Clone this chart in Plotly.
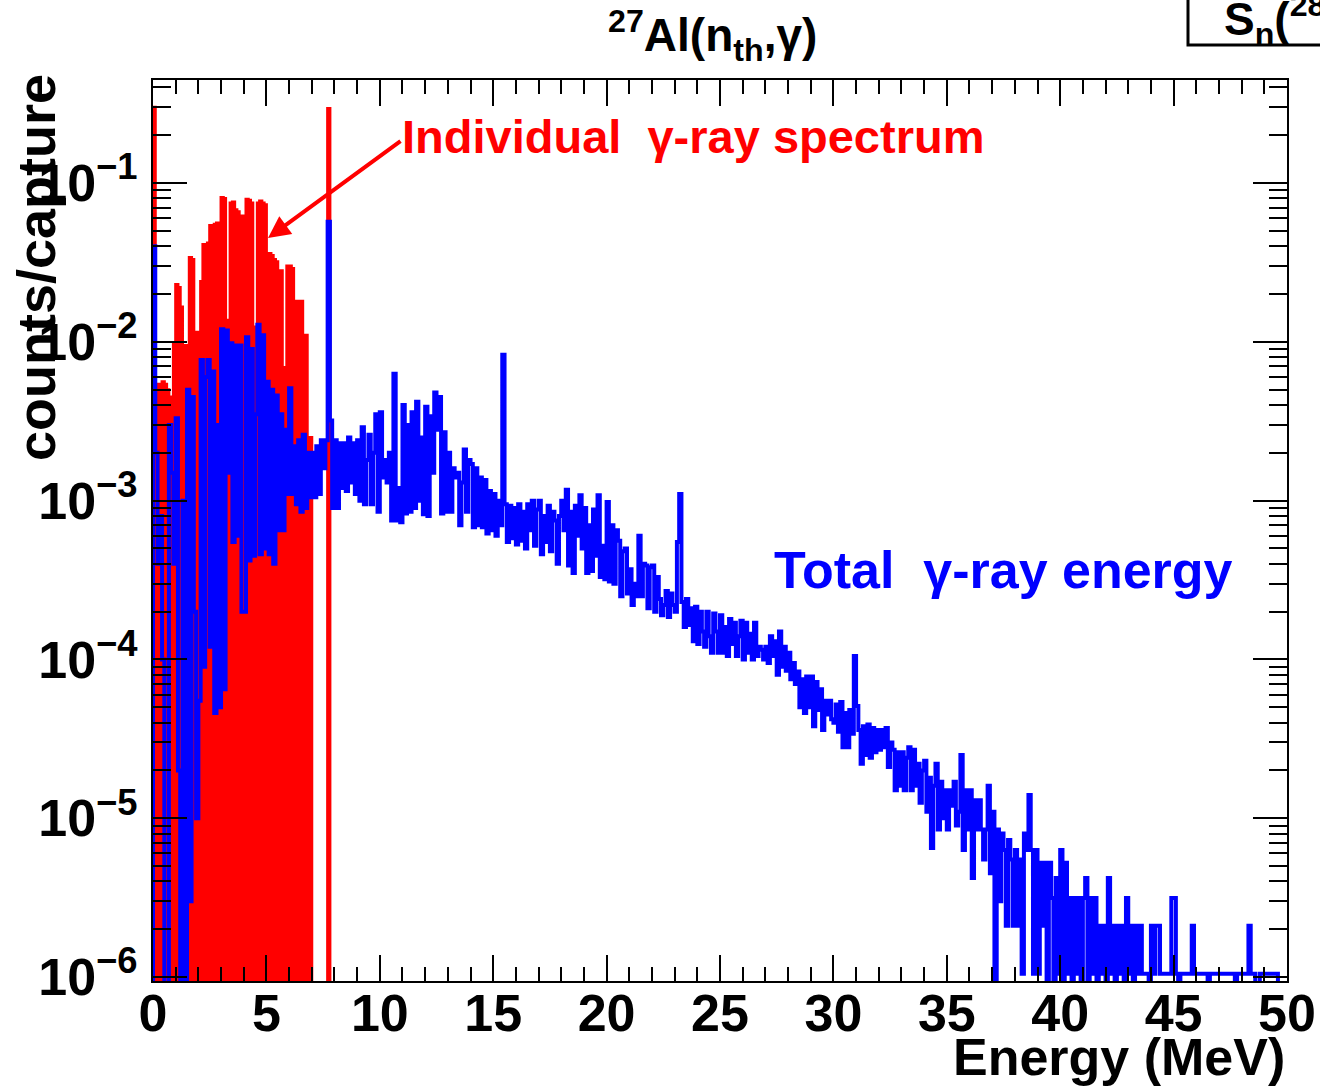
import numpy as np
import plotly.graph_objects as go

# ---------------- data ----------------
BIN_WIDTH_MEV = 0.1

# Individual gamma-ray spectrum (red, filled), 0.1 MeV bins starting at 0 MeV
red_individual = [
    0.3, 5.4e-3, 5.2e-3, 5.4e-3, 5.6e-3, 5.4e-3, 5.0e-3, 4.5e-3, 4.5e-3, 9.8e-3,
    0.023, 0.022, 0.0166, 0.009, 0.0095, 0.009, 0.034, 0.033, 0.011, 0.0115,
    0.011, 0.024, 0.041, 0.04, 0.042, 0.054, 0.053, 0.055, 0.056, 0.055,
    0.081, 0.08, 0.0137, 0.0137, 0.075, 0.076, 0.068, 0.066, 0.061, 0.062,
    0.061, 0.079, 0.078, 0.075, 0.0124, 0.0124, 0.075, 0.077, 0.075, 0.073,
    0.036, 0.036, 0.035, 0.033, 0.032, 0.028, 0.028, 0.0069, 0.005, 0.03,
    0.03, 0.029, 0.018, 0.018, 0.017, 0.018, 0.011, 0.011, 2.5e-3, 2.5e-3,
    0, 0, 0, 0, 0, 0, 0, 0.295,
]

# Total gamma-ray energy (blue, line), 0.1 MeV bins from 0 to 50 MeV (one row = 1 MeV)
blue_total = [
    0.04, 2e-3, 4e-4, 8e-4, 1e-4, 0, 0, 3e-3, 1.5e-3, 4e-4,
    3.3e-3, 2e-5, 0, 1e-3, 0, 5e-3, 3e-6, 4.5e-3, 2e-4, 1e-5,
    5.5e-5, 7.7e-3, 9e-5, 6e-3, 7.7e-3, 1.2e-4, 6.5e-3, 4.6e-5, 3e-3, 5e-5,
    0.012, 6.5e-5, 0.0118, 1.5e-3, 0.0098, 5.5e-4, 9.5e-3, 6e-4, 0.0095, 2e-4,
    2e-4, 0.0107, 4.2e-4, 9e-3, 4.5e-4, 3.5e-3, 0.0128, 4.6e-4, 0.011, 5e-4,
    5.6e-3, 4.6e-4, 5.0e-3, 4e-4, 4.6e-3, 6.5e-4, 3.5e-3, 6.5e-4, 2.8e-3, 1.1e-3,
    5.1e-3, 1.1e-3, 2.2e-3, 9.5e-4, 2.4e-3, 8.5e-4, 2.6e-3, 9e-4, 2.0e-3, 1.05e-3,
    2.0e-3, 1.05e-3, 2.2e-3, 1.1e-3, 2.4e-3, 1.6e-3, 2.4e-3, 0.057, 3.2e-3, 9e-4,
    2.4e-3, 9e-4, 2.3e-3, 1.2e-3, 2.3e-3, 1.15e-3, 2.5e-3, 1.3e-3, 2.3e-3, 1.1e-3,
    2.4e-3, 1.0e-3, 2.9e-3, 9.5e-4, 1.8e-3, 2.6e-3, 9.5e-4, 2.0e-3, 3.5e-3, 8.5e-4,
    3.6e-3, 1.4e-3, 1.8e-3, 1.3e-3, 2.0e-3, 7.5e-4, 6.3e-3, 7.5e-4, 1.2e-3, 7.3e-4,
    4.0e-3, 8.3e-4, 3.0e-3, 8.5e-4, 3.6e-3, 9e-4, 4.2e-3, 1.0e-3, 2.5e-3, 8.2e-4,
    3.9e-3, 8.0e-4, 3.4e-3, 1.5e-3, 4.8e-3, 2.8e-3, 4.5e-3, 8.3e-4, 2.7e-3, 8.5e-4,
    2.0e-3, 8.5e-4, 1.6e-3, 1.4e-3, 1.5e-3, 7.0e-4, 1.3e-3, 2.1e-3, 8.5e-4, 1.8e-3,
    1.7e-3, 6.8e-4, 1.6e-3, 7e-4, 1.4e-3, 6.8e-4, 1.35e-3, 6.2e-4, 1.15e-3, 6.5e-4,
    1.1e-3, 6.0e-4, 1.0e-3, 7.0e-4, 8.3e-3, 9.5e-4, 5.5e-4, 9.3e-4, 5.8e-4, 9.0e-4,
    5.3e-4, 9.5e-4, 5.6e-4, 8.5e-4, 5.0e-4, 9.5e-4, 6.5e-4, 1.0e-3, 5.2e-4, 8.8e-4,
    1.0e-3, 4.6e-4, 8.0e-4, 5.5e-4, 9.3e-4, 4.8e-4, 8.5e-4, 7.5e-4, 4.0e-4, 8.0e-4,
    1.0e-3, 6.5e-4, 1.17e-3, 3.9e-4, 8.5e-4, 3.5e-4, 9.3e-4, 6.0e-4, 1.08e-3, 5.0e-4,
    9.0e-4, 3.5e-4, 7.0e-4, 3.6e-4, 8.8e-4, 4.5e-4, 1.08e-3, 3.3e-4, 5.2e-4, 3.2e-4,
    9.8e-4, 3.1e-4, 7.0e-4, 3.0e-4, 6.5e-4, 5.6e-4, 2.5e-4, 4.8e-4, 5.0e-4, 2.6e-4,
    3.7e-4, 2.2e-4, 3.0e-4, 2.5e-4, 6.0e-4, 2.5e-4, 4.0e-4, 3.9e-4, 2.1e-4, 3.8e-4,
    3.9e-4, 2.0e-4, 3.3e-4, 2.4e-4, 1.9e-4, 2.2e-4, 2.7e-4, 1.85e-4, 2.6e-4, 2.2e-4,
    2.0e-4, 5.5e-4, 1.1e-3, 2.3e-4, 1.6e-4, 2.4e-4, 1.65e-4, 2.1e-4, 1.3e-4, 2.15e-4,
    1.25e-4, 2.0e-4, 1.5e-4, 1.2e-4, 2.0e-4, 1.4e-4, 1.1e-4, 1.95e-4, 1.5e-4, 1.1e-4,
    1.9e-4, 1.1e-4, 1.6e-4, 1.05e-4, 1.8e-4, 1.25e-4, 1.7e-4, 1.05e-4, 1.4e-4, 1.75e-4,
    1.0e-4, 1.7e-4, 1.1e-4, 1.45e-4, 1.0e-4, 1.7e-4, 1.05e-4, 1.2e-4, 1.15e-4, 1.0e-4,
    1.2e-4, 9.5e-5, 1.4e-4, 1.05e-4, 1.3e-4, 8.0e-5, 1.5e-4, 9.0e-5, 1.2e-4, 8.5e-5,
    1.1e-4, 7.5e-5, 9.5e-5, 7.0e-5, 8.4e-5, 5.0e-5, 7.5e-5, 4.6e-5, 7.8e-5, 5.0e-5,
    7.8e-5, 3.8e-5, 7.2e-5, 4.8e-5, 6.5e-5, 3.6e-5, 5.5e-5, 4.5e-5, 5.5e-5, 4.2e-5,
    4.0e-5, 5.2e-5, 3.5e-5, 5.4e-5, 2.8e-5, 4.6e-5, 2.8e-5, 4.8e-5, 3.4e-5, 1.05e-4,
    5.1e-5, 3.6e-5, 2.2e-5, 3.8e-5, 2.5e-5, 3.9e-5, 2.4e-5, 3.7e-5, 2.6e-5, 3.6e-5,
    2.7e-5, 3.6e-5, 2.8e-5, 3.7e-5, 2.1e-5, 3.0e-5, 2.7e-5, 1.5e-5, 2.6e-5, 1.6e-5,
    2.6e-5, 1.5e-5, 2.4e-5, 2.8e-5, 1.5e-5, 2.7e-5, 1.6e-5, 2.2e-5, 1.25e-5, 2.0e-5,
    2.3e-5, 1.1e-5, 1.8e-5, 6.5e-6, 1.6e-5, 2.2e-5, 8.5e-6, 1.7e-5, 1.0e-5, 1.5e-5,
    8.5e-6, 1.5e-5, 1.2e-5, 1.7e-5, 9.0e-6, 1.1e-5, 2.5e-5, 6.3e-6, 1.5e-5, 8.5e-6,
    1.5e-5, 4.2e-6, 1.3e-5, 8.5e-6, 1.3e-5, 8.5e-6, 5.5e-6, 8.5e-6, 1.6e-5, 4.5e-6,
    1.1e-5, 0, 8.5e-6, 3.0e-6, 8.0e-6, 6.3e-6, 2.1e-6, 7.3e-6, 5.5e-6, 2.1e-6,
    6.3e-6, 2.1e-6, 5.5e-6, 1.05e-6, 8.0e-6, 6.3e-6, 1.4e-5, 6.3e-6, 1.05e-6, 6.3e-6,
    1.05e-6, 5.25e-6, 2.1e-6, 5.25e-6, 0, 5.25e-6, 3.15e-6, 0, 4.2e-6, 1.05e-6,
    6.3e-6, 0, 5.25e-6, 1.05e-6, 3.15e-6, 0, 3.15e-6, 1.05e-6, 3.15e-6, 0,
    3.15e-6, 4.2e-6, 0, 3.15e-6, 1.05e-6, 3.15e-6, 0, 2.1e-6, 1.05e-6, 2.1e-6,
    0, 4.2e-6, 1.05e-6, 2.1e-6, 0, 2.1e-6, 1.05e-6, 2.1e-6, 0, 3.15e-6,
    1.05e-6, 2.1e-6, 0, 2.1e-6, 1.05e-6, 2.1e-6, 1.05e-6, 1.05e-6, 1.05e-6, 0,
    2.1e-6, 1.05e-6, 2.1e-6, 2.1e-6, 1.05e-6, 1.05e-6, 1.05e-6, 1.05e-6, 1.05e-6, 3.15e-6,
    3.15e-6, 1.05e-6, 0, 1.05e-6, 1.05e-6, 1.05e-6, 1.05e-6, 1.05e-6, 2.1e-6, 1.05e-6,
    1.05e-6, 1.05e-6, 1.05e-6, 1.05e-6, 1.05e-6, 0, 1.05e-6, 1.05e-6, 1.05e-6, 1.05e-6,
    1.05e-6, 1.05e-6, 1.05e-6, 1.05e-6, 1.05e-6, 1.05e-6, 1.05e-6, 0, 1.05e-6, 1.05e-6,
    1.05e-6, 1.05e-6, 1.05e-6, 2.1e-6, 1.05e-6, 1.05e-6, 0, 0, 1.05e-6, 1.05e-6,
    1.05e-6, 1.05e-6, 1.05e-6, 1.05e-6, 1.05e-6, 1.05e-6, 0, 0, 0, 0,
]

x_tick_vals = [0, 5, 10, 15, 20, 25, 30, 35, 40, 45, 50]
x_tick_labels = ["0", "5", "10", "15", "20", "25", "30", "35", "40", "45", "50"]
y_tick_vals = [1e-6, 1e-5, 1e-4, 1e-3, 1e-2, 1e-1]
y_tick_labels = ["10<sup>\u22126</sup>", "10<sup>\u22125</sup>", "10<sup>\u22124</sup>",
                 "10<sup>\u22123</sup>", "10<sup>\u22122</sup>", "10<sup>\u22121</sup>"]

X_RANGE = [0, 50]
Y_RANGE_LOG = [-6.025, -0.351]
FLOOR = 1e-9  # empty bins are drawn below the visible range (clipped)

FONT = "Liberation Sans"
RED = "#ff0000"
BLUE = "#0000ff"


def step_outline(values):
    v = np.asarray(values, dtype=float)
    v = np.where(v > 0, v, FLOOR)
    edges = np.arange(len(v) + 1) * BIN_WIDTH_MEV
    x = np.concatenate([[edges[0]], edges[:-1], [edges[-1], edges[-1]]])
    y = np.concatenate([[FLOOR], v, [v[-1], FLOOR]])
    return x, y


fig = go.Figure()

rx, ry = step_outline(red_individual)
fig.add_trace(go.Scatter(
    x=rx, y=ry, mode="lines", line=dict(color=RED, width=3, shape="hv"),
    fill="toself", fillcolor=RED, showlegend=False, hoverinfo="skip"))

bx, by = step_outline(blue_total)
fig.add_trace(go.Scatter(
    x=bx, y=by, mode="lines", line=dict(color=BLUE, width=4, shape="hv"),
    showlegend=False, hoverinfo="skip"))

L, R, T, B = 153, 33, 80, 107
W, H = 1320, 1088
PW, PH = W - L - R, H - T - B


def px(xp):
    return (xp - L) / PW


def py(yp):
    return (H - B - yp) / PH


minor_y = [m * 10.0 ** e for e in range(-6, 0) for m in range(2, 10)]

fig.update_layout(
    width=W, height=H, autosize=False,
    margin=dict(l=L, r=R, t=T, b=B, pad=0, autoexpand=False),
    plot_bgcolor="white", paper_bgcolor="white",
    font=dict(family=FONT, color="black"),
    xaxis=dict(
        range=X_RANGE, showgrid=False, zeroline=False, automargin=False,
        showline=True, linecolor="black", linewidth=2, mirror="allticks",
        ticks="inside", ticklen=26, tickwidth=2, tickcolor="black",
        tickmode="array", tickvals=x_tick_vals, ticktext=x_tick_labels,
        tickfont=dict(family=FONT, size=52, weight="bold", color="black"),
        ticklabelstandoff=-14, ticklabeloverflow="allow",
        minor=dict(ticks="inside", ticklen=14, tickwidth=2, tickcolor="black",
                   dtick=1, tick0=0, showgrid=False),
    ),
    yaxis=dict(
        type="log", range=Y_RANGE_LOG, showgrid=False, zeroline=False, automargin=False,
        showline=True, linecolor="black", linewidth=2, mirror="allticks",
        ticks="inside", ticklen=34, tickwidth=2, tickcolor="black",
        tickmode="array", tickvals=y_tick_vals, ticktext=y_tick_labels,
        tickfont=dict(family=FONT, size=52, weight="bold", color="black"),
        ticklabelstandoff=3, ticklabeloverflow="allow",
        minor=dict(ticks="inside", ticklen=18, tickwidth=2, tickcolor="black",
                   tickvals=minor_y, showgrid=False),
    ),
)

annotations = [
    dict(text="<b><sup>27</sup>Al(n<sub>th</sub>,\u03b3)</b>", x=px(712), y=py(35),
         xref="paper", yref="paper", xanchor="center", yanchor="middle",
         showarrow=False, font=dict(family=FONT, size=46, color="black")),
    dict(text="<b>S<sub>n</sub>(<sup>28</sup>Al) = 7.725 MeV</b>", x=px(1222), y=py(20),
         xref="paper", yref="paper", xanchor="left", yanchor="middle",
         showarrow=False, font=dict(family=FONT, size=46, color="black")),
    dict(text="<b>counts/capture</b>", x=px(36), y=py(268), textangle=-90,
         xref="paper", yref="paper", xanchor="center", yanchor="middle",
         showarrow=False, font=dict(family=FONT, size=54, color="black")),
    dict(text="<b>Energy (MeV)</b>", x=1.0, y=py(1057),
         xref="paper", yref="paper", xanchor="right", yanchor="middle",
         showarrow=False, font=dict(family=FONT, size=52, color="black")),
    dict(text="<b>Individual  \u03b3-ray spectrum</b>", x=px(400), y=py(137),
         xref="paper", yref="paper", xanchor="left", yanchor="middle",
         showarrow=False, font=dict(family=FONT, size=47, color=RED)),
    dict(text="<b>Total  \u03b3-ray energy</b>", x=px(772), y=py(570),
         xref="paper", yref="paper", xanchor="left", yanchor="middle",
         showarrow=False, font=dict(family=FONT, size=52, color=BLUE)),
    dict(text="", x=px(268), y=py(238), xref="paper", yref="paper",
         ax=134, ay=-98, showarrow=True, arrowcolor=RED, arrowwidth=4,
         arrowhead=2, arrowsize=1.1),
]
fig.update_layout(annotations=annotations)

fig.add_shape(type="rect", xref="paper", yref="paper",
              x0=px(1188), x1=px(1500), y0=py(45), y1=py(-40),
              line=dict(color="black", width=3), fillcolor="white", layer="below")

fig.write_html(
    "out.html",
    config={"responsive": False, "displayModeBar": False},
    post_script="document.body.style.margin='0px';document.body.style.overflow='hidden';",
)
